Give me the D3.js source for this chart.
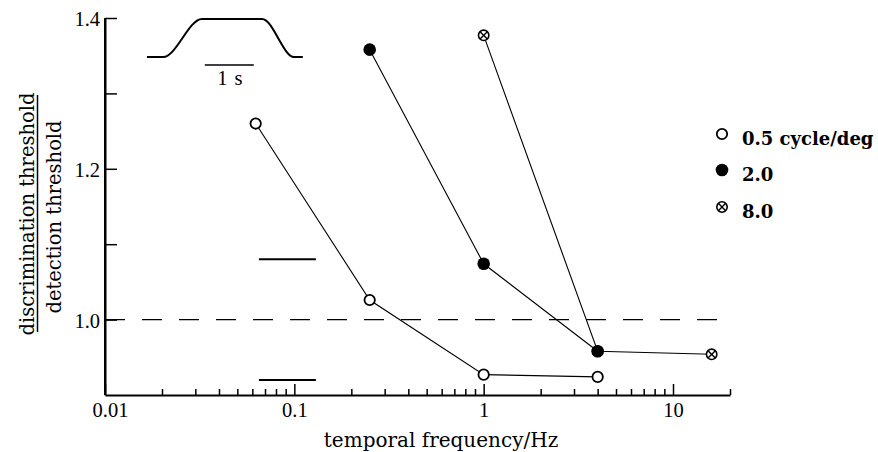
<!DOCTYPE html>
<html>
<head>
<meta charset="utf-8">
<script src="https://cdn.jsdelivr.net/npm/d3@7"></script>
<style>
  html, body { margin: 0; padding: 0; background: #fff; }
  svg { display: block; }
</style>
</head>
<body>
<svg id="chart" width="878" height="452"></svg>
<script>
// ---------- data ----------
const seriesNames = ["0.5 cycle/deg", "2.0", "8.0"];
const seriesMarkers = ["open", "filled", "crossed"];

const freqOpen = [0.0625, 0.25, 1, 4];
const ratioOpen = [1.26, 1.026, 0.927, 0.924];

const freqFilled = [0.25, 1, 4];
const ratioFilled = [1.358, 1.074, 0.958];

const freqCrossed = [1, 4, 16];
const ratioCrossed = [1.377, 0.958, 0.954];

const xMajorTicks = [0.01, 0.1, 1, 10];
const xMinorTicks = [0.02, 0.03, 0.04, 0.05, 0.06, 0.07, 0.08, 0.09,
                     0.2, 0.3, 0.4, 0.5, 0.6, 0.7, 0.8, 0.9,
                     2, 3, 4, 5, 6, 7, 8, 9, 20];
const xTickLabels = ["0.01", "0.1", "1", "10"];
const yMajorTicks = [1.0, 1.2, 1.4];
const yMinorTicks = [1.1, 1.3];
const yTickLabels = ["1.0", "1.2", "1.4"];

const referenceRatio = 1.0;
const rangeMarkFreq = [0.065, 0.13];
const rangeMarkRatios = [1.08, 0.92];

// inset stimulus waveform (time in s, relative level)
const stimTime = [0, 0.33, 1.12, 2.35, 3.0, 3.18];
const stimLevel = [0, 0, 1, 1, 0, 0];
const scaleBarTime = [1.18, 2.18];
const scaleBarLabel = "1 s";

const xTitle = "temporal frequency/Hz";
const yTitleTop = "discrimination threshold";
const yTitleBottom = "detection threshold";

// ---------- layout ----------
const svg = d3.select("#chart");
const x = d3.scaleLog().domain([0.01, 20]).range([105, 730]);
const y = d3.scaleLinear().domain([0.9, 1.4]).range([395, 18]);

const numFont = "'Liberation Serif', 'Times New Roman', serif";
const textFont = "'DejaVu Serif', serif";

// ---------- axes ----------
const gx = svg.append("g").attr("transform", `translate(0,${y(0.9)})`);
gx.append("g")
  .call(d3.axisBottom(x).tickValues(xMinorTicks).tickSize(-6).tickSizeOuter(0).tickFormat(""))
  .call(g => g.select(".domain").attr("stroke-width", 2));
gx.append("g")
  .call(d3.axisBottom(x).tickValues(xMajorTicks).tickSize(-11).tickSizeOuter(0)
        .tickFormat((d, i) => xTickLabels[i]))
  .call(g => g.select(".domain").remove())
  .call(g => g.selectAll("text")
        .attr("y", 22).attr("dy", 0)
        .attr("dx", (d, i) => i === 0 ? 5 : 0)
        .attr("font-family", numFont).attr("font-size", 20.5).attr("fill", "#000"));
gx.selectAll(".tick line").attr("stroke-width", 1.5).attr("stroke", "#000");

const gy = svg.append("g").attr("transform", `translate(${x(0.01)},0)`);
gy.append("g")
  .call(d3.axisLeft(y).tickValues(yMinorTicks).tickSize(-12).tickSizeOuter(0).tickFormat(""))
  .call(g => g.select(".domain").attr("stroke-width", 2));
gy.append("g")
  .call(d3.axisLeft(y).tickValues(yMajorTicks).tickSize(-12).tickSizeOuter(0)
        .tickFormat((d, i) => yTickLabels[i]))
  .call(g => g.select(".domain").remove())
  .call(g => g.selectAll("text")
        .attr("x", -5).attr("dy", "0.38em")
        .attr("font-family", numFont).attr("font-size", 20.5).attr("fill", "#000"));
gy.selectAll(".tick line").attr("stroke-width", 1.5).attr("stroke", "#000");
svg.selectAll(".domain").attr("stroke", "#000");

gy.append("line").attr("x1", 0).attr("x2", 0).attr("y1", y(1.4)).attr("y2", y(0.9))
  .attr("stroke", "#000").attr("stroke-width", 2);

// ---------- reference lines ----------
svg.append("line")
  .attr("x1", x(0.01)).attr("x2", x(20) + 3)
  .attr("y1", y(referenceRatio)).attr("y2", y(referenceRatio))
  .attr("stroke", "#000").attr("stroke-width", 1.3)
  .attr("stroke-dasharray", "20,17");

svg.selectAll(".rangeMark").data(rangeMarkRatios).join("line")
  .attr("class", "rangeMark")
  .attr("x1", x(rangeMarkFreq[0])).attr("x2", x(rangeMarkFreq[1]))
  .attr("y1", d => y(d)).attr("y2", d => y(d))
  .attr("stroke", "#000").attr("stroke-width", 2);

// ---------- series ----------
const series = [
  { name: seriesNames[0], marker: seriesMarkers[0], f: freqOpen, v: ratioOpen },
  { name: seriesNames[2], marker: seriesMarkers[2], f: freqCrossed, v: ratioCrossed },
  { name: seriesNames[1], marker: seriesMarkers[1], f: freqFilled, v: ratioFilled }
];

const line = d3.line().x(d => x(d[0])).y(d => y(d[1]));
series.forEach(s => {
  svg.append("path")
    .datum(s.f.map((f, i) => [f, s.v[i]]))
    .attr("d", line).attr("fill", "none")
    .attr("stroke", "#000").attr("stroke-width", 1.1);
});

function drawMarker(g, type, cx, cy) {
  if (type === "filled") {
    g.append("circle").attr("cx", cx).attr("cy", cy).attr("r", 6.3).attr("fill", "#000");
  } else if (type === "open") {
    g.append("circle").attr("cx", cx).attr("cy", cy).attr("r", 5.2)
      .attr("fill", "#fff").attr("stroke", "#000").attr("stroke-width", 1.8);
  } else {
    g.append("circle").attr("cx", cx).attr("cy", cy).attr("r", 5.2)
      .attr("fill", "#fff").attr("stroke", "#000").attr("stroke-width", 1.6);
    const r = 3.4;
    g.append("path")
      .attr("d", `M${cx - r},${cy - r}L${cx + r},${cy + r}M${cx - r},${cy + r}L${cx + r},${cy - r}`)
      .attr("stroke", "#000").attr("stroke-width", 1.4);
  }
}

series.forEach(s => {
  const g = svg.append("g");
  s.f.forEach((f, i) => drawMarker(g, s.marker, x(f), y(s.v[i])));
});

// ---------- legend ----------
const legend = svg.append("g");
const legendY = [134, 170, 207];
seriesNames.forEach((name, i) => {
  drawMarker(legend, seriesMarkers[i], 722, legendY[i]);
  legend.append("text")
    .attr("x", 742).attr("y", legendY[i] + 11)
    .attr("font-family", textFont).attr("font-weight", "bold").attr("font-size", 18)
    .attr("fill", "#000").text(name);
});

// ---------- inset stimulus ----------
const tx = d3.scaleLinear().domain([0, 1]).range([147, 196]);
const ty = d3.scaleLinear().domain([0, 1]).range([57, 19]);
svg.append("path")
  .datum(stimTime.map((t, i) => [t, stimLevel[i]]))
  .attr("d", d3.line().x(d => tx(d[0])).y(d => ty(d[1])).curve(d3.curveMonotoneX))
  .attr("fill", "none").attr("stroke", "#000").attr("stroke-width", 2);
svg.append("line")
  .attr("x1", tx(scaleBarTime[0])).attr("x2", tx(scaleBarTime[1]))
  .attr("y1", 65).attr("y2", 65)
  .attr("stroke", "#000").attr("stroke-width", 1.3);
svg.append("text")
  .attr("x", (tx(scaleBarTime[0]) + tx(scaleBarTime[1])) / 2 + 1).attr("y", 85)
  .attr("text-anchor", "middle")
  .attr("font-family", numFont).attr("font-size", 20.5).attr("fill", "#000")
  .attr("letter-spacing", 1)
  .text(scaleBarLabel);

// ---------- titles ----------
svg.append("text")
  .attr("x", 441).attr("y", 447).attr("text-anchor", "middle")
  .attr("font-family", textFont).attr("font-size", 20).attr("fill", "#000")
  .text(xTitle);

const yt = svg.append("g").attr("transform", "translate(0,214) rotate(-90)");
yt.append("text")
  .attr("x", 0).attr("y", 34).attr("text-anchor", "middle")
  .attr("font-family", textFont).attr("font-size", 19.5).attr("fill", "#000")
  .text(yTitleTop);
yt.append("line")
  .attr("x1", -118).attr("x2", 119).attr("y1", 37.5).attr("y2", 37.5)
  .attr("stroke", "#000").attr("stroke-width", 1.5);
yt.append("text")
  .attr("x", -3).attr("y", 61).attr("text-anchor", "middle")
  .attr("font-family", textFont).attr("font-size", 19.5).attr("fill", "#000")
  .text(yTitleBottom);
</script>
</body>
</html>
